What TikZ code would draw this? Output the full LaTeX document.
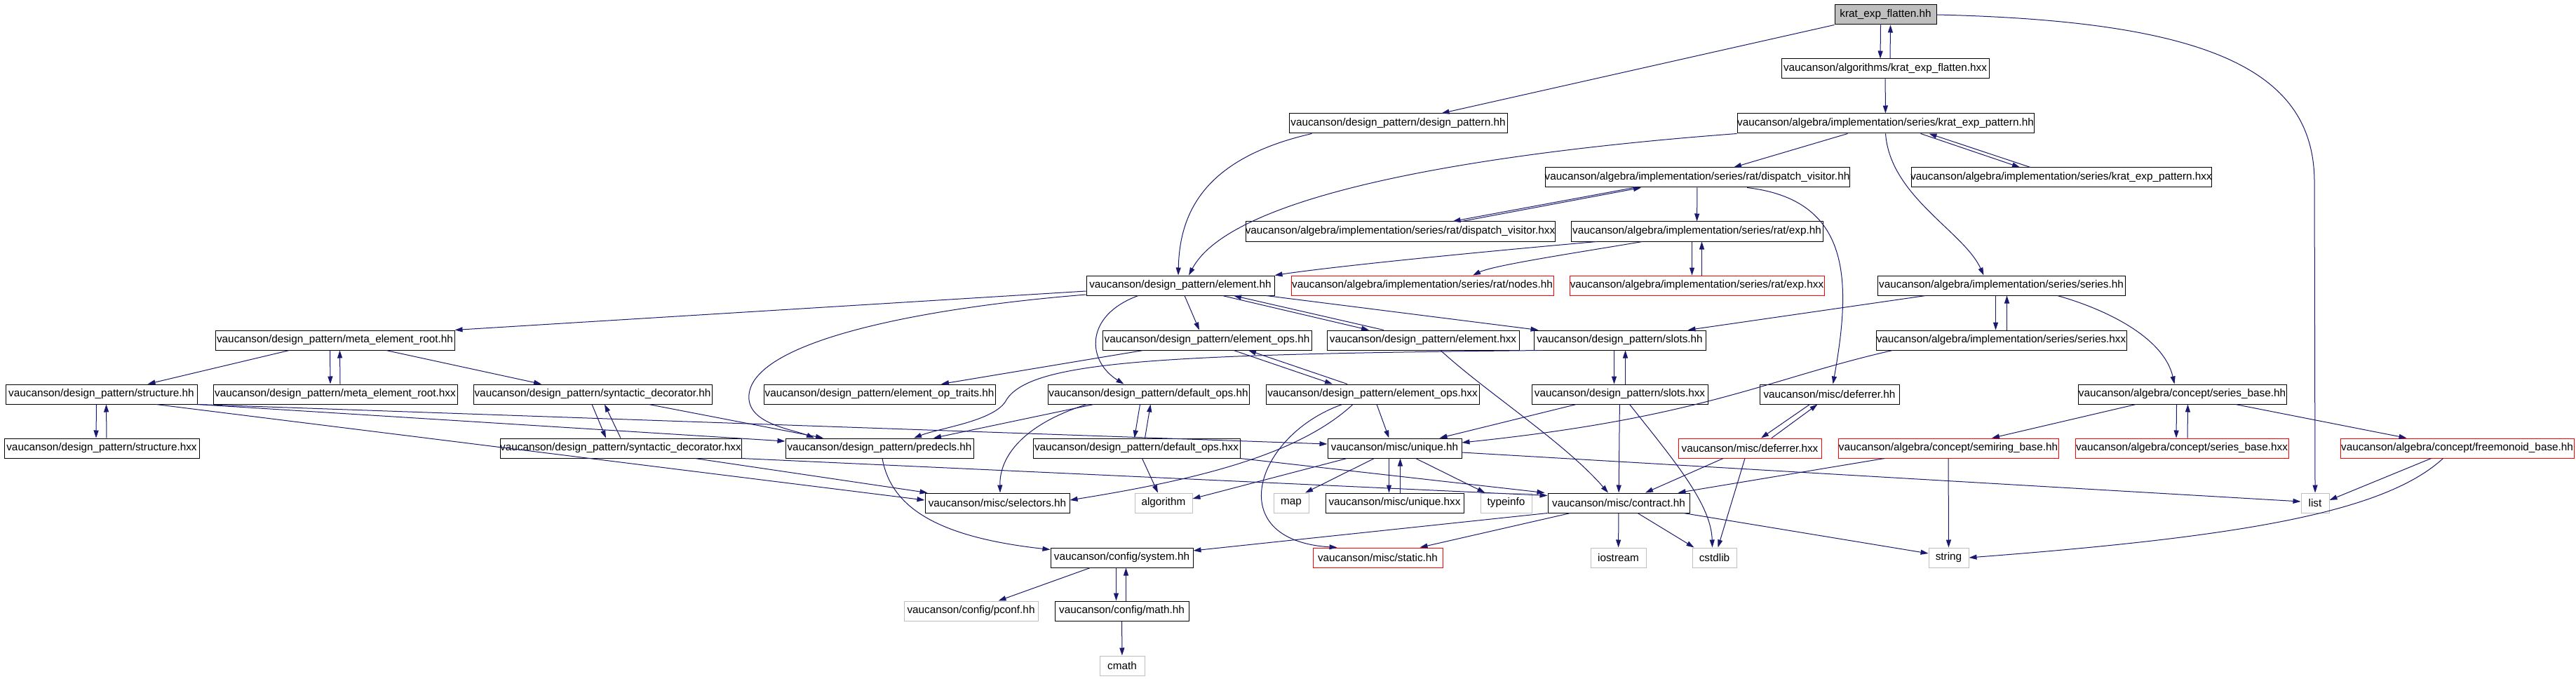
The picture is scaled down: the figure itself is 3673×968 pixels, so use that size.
\documentclass[tikz,border=0pt]{standalone}
\usepackage{fontspec}
\setmainfont{Liberation Sans}
\usetikzlibrary{arrows.meta}
\definecolor{dpblue}{RGB}{25,25,112}
\definecolor{grayb}{RGB}{191,191,191}
\newcommand{\nlab}[1]{\makebox[0pt]{#1}}
\begin{document}
\begin{tikzpicture}[x=1pt,y=-1pt,
  nd/.style={draw=black, line width=1pt, fill=white, minimum height=28pt, inner sep=0pt, font=\fontsize{15.3}{18}\selectfont},
  sysb/.style={nd, draw=grayb},
  redb/.style={nd, draw=red},
  rootb/.style={nd, fill=grayb},
  e/.style={draw=dpblue, line width=1pt, -{Triangle[length=11pt,width=7pt]}}]
\fill[white] (0,0) rectangle (3673,968);
\useasboundingbox (0,0) rectangle (3673,968);
% row 0-4
\node[rootb, minimum width=145pt] (flat) at (2688.5,21) {\nlab{krat\_exp\_flatten.hh}};
\node[nd, minimum width=296pt] (flathxx) at (2688,98) {\nlab{vaucanson/algorithms/krat\_exp\_flatten.hxx}};
\node[nd, minimum width=311pt] (dp) at (1993.5,176) {\nlab{vaucanson/design\_pattern/design\_pattern.hh}};
\node[nd, minimum width=423pt] (kep) at (2688.5,176) {\nlab{vaucanson/algebra/implementation/series/krat\_exp\_pattern.hh}};
\node[nd, minimum width=434pt] (dv) at (2420,253) {\nlab{vaucanson/algebra/implementation/series/rat/dispatch\_visitor.hh}};
\node[nd, minimum width=428pt] (kephxx) at (2939,253) {\nlab{vaucanson/algebra/implementation/series/krat\_exp\_pattern.hxx}};
\node[nd, minimum width=441pt] (dvhxx) at (1996.5,330) {\nlab{vaucanson/algebra/implementation/series/rat/dispatch\_visitor.hxx}};
\node[nd, minimum width=359pt] (exph) at (2419.5,330) {\nlab{vaucanson/algebra/implementation/series/rat/exp.hh}};
% row 5
\node[nd, minimum width=268pt] (elem) at (1683,407) {\nlab{vaucanson/design\_pattern/element.hh}};
\node[redb, minimum width=374pt] (nodes) at (2028,407) {\nlab{vaucanson/algebra/implementation/series/rat/nodes.hh}};
\node[redb, minimum width=363pt] (exphxx) at (2419.5,407) {\nlab{vaucanson/algebra/implementation/series/rat/exp.hxx}};
\node[nd, minimum width=353pt] (series) at (2853.5,407) {\nlab{vaucanson/algebra/implementation/series/series.hh}};
% row 6
\node[nd, minimum width=341pt] (mer) at (477.5,485) {\nlab{vaucanson/design\_pattern/meta\_element\_root.hh}};
\node[nd, minimum width=298pt] (eops) at (1721,485) {\nlab{vaucanson/design\_pattern/element\_ops.hh}};
\node[nd, minimum width=274pt] (elemhxx) at (2029,485) {\nlab{vaucanson/design\_pattern/element.hxx}};
\node[nd, minimum width=245pt] (slots) at (2309.5,485) {\nlab{vaucanson/design\_pattern/slots.hh}};
\node[nd, minimum width=357pt] (serieshxx) at (2853.5,485) {\nlab{vaucanson/algebra/implementation/series/series.hxx}};
% row 7
\node[nd, minimum width=273pt] (struct) at (144.5,562) {\nlab{vaucanson/design\_pattern/structure.hh}};
\node[nd, minimum width=348pt] (merhxx) at (478,562) {\nlab{vaucanson/design\_pattern/meta\_element\_root.hxx}};
\node[nd, minimum width=340pt] (sdec) at (845,562) {\nlab{vaucanson/design\_pattern/syntactic\_decorator.hh}};
\node[nd, minimum width=330pt] (eot) at (1254,562) {\nlab{vaucanson/design\_pattern/element\_op\_traits.hh}};
\node[nd, minimum width=287pt] (dops) at (1637.5,562) {\nlab{vaucanson/design\_pattern/default\_ops.hh}};
\node[nd, minimum width=304pt] (eopshxx) at (1957,562) {\nlab{vaucanson/design\_pattern/element\_ops.hxx}};
\node[nd, minimum width=251pt] (slotshxx) at (2309.5,562) {\nlab{vaucanson/design\_pattern/slots.hxx}};
\node[nd, minimum width=199pt] (defer) at (2608.5,562) {\nlab{vaucanson/misc/deferrer.hh}};
\node[nd, minimum width=297pt] (sbase) at (3111.5,562) {\nlab{vaucanson/algebra/concept/series\_base.hh}};
% row 8
\node[nd, minimum width=278pt] (structhxx) at (145,639) {\nlab{vaucanson/design\_pattern/structure.hxx}};
\node[nd, minimum width=344pt] (sdechxx) at (885,639) {\nlab{vaucanson/design\_pattern/syntactic\_decorator.hxx}};
\node[nd, minimum width=268pt] (predecls) at (1254,639) {\nlab{vaucanson/design\_pattern/predecls.hh}};
\node[nd, minimum width=295pt] (dopshxx) at (1620.5,639) {\nlab{vaucanson/design\_pattern/default\_ops.hxx}};
\node[nd, minimum width=191pt] (unique) at (1988.5,639) {\nlab{vaucanson/misc/unique.hh}};
\node[redb, minimum width=204pt] (deferhxx) at (2495,639) {\nlab{vaucanson/misc/deferrer.hxx}};
\node[redb, minimum width=314pt] (semiring) at (2778,639) {\nlab{vaucanson/algebra/concept/semiring\_base.hh}};
\node[redb, minimum width=304pt] (sbasehxx) at (3111,639) {\nlab{vaucanson/algebra/concept/series\_base.hxx}};
\node[redb, minimum width=333pt] (freemon) at (3503.5,639) {\nlab{vaucanson/algebra/concept/freemonoid\_base.hh}};
% row 9
\node[nd, minimum width=206pt] (selectors) at (1422,717) {\nlab{vaucanson/misc/selectors.hh}};
\node[sysb, minimum width=82pt] (algorithm) at (1659,717) {\nlab{algorithm}};
\node[sysb, minimum width=50pt] (map) at (1841,717) {\nlab{map}};
\node[nd, minimum width=197pt] (uniquehxx) at (1988.5,717) {\nlab{vaucanson/misc/unique.hxx}};
\node[sysb, minimum width=73pt] (typeinfo) at (2147.5,717) {\nlab{typeinfo}};
\node[nd, minimum width=202pt] (contract) at (2308,717) {\nlab{vaucanson/misc/contract.hh}};
\node[sysb, minimum width=40pt] (list) at (3301,717) {\nlab{list}};
% row 10-12
\node[nd, minimum width=203pt] (system) at (1599.5,795) {\nlab{vaucanson/config/system.hh}};
\node[redb, minimum width=185pt] (static) at (1964.5,795) {\nlab{vaucanson/misc/static.hh}};
\node[sysb, minimum width=79pt] (iostream) at (2307.5,795) {\nlab{iostream}};
\node[sysb, minimum width=63pt] (cstdlib) at (2444.5,795) {\nlab{cstdlib}};
\node[sysb, minimum width=57pt] (string) at (2778.5,795) {\nlab{string}};
\node[sysb, minimum width=191pt] (pconf) at (1384.5,871) {\nlab{vaucanson/config/pconf.hh}};
\node[nd, minimum width=191pt] (math) at (1599.5,871) {\nlab{vaucanson/config/math.hh}};
\node[sysb, minimum width=64pt] (cmath) at (1600,949) {\nlab{cmath}};
% edges
\draw[e] (flat.south west) -- ([xshift=62pt]dp.north);
\draw[e] ([xshift=-7pt]flat.south) -- ([xshift=-7pt]flathxx.north);
\draw[e] ([xshift=7pt]flathxx.north) -- ([xshift=7pt]flat.south);
\draw[e] (flat.east) .. controls (3150,30) and (3300,100) .. (3300,260) -- (list.north);
\draw[e] (flathxx) -- (kep);
\draw[e] ([xshift=-123pt]dp.south) .. controls (1720,225) and (1682,300) .. ([xshift=-3pt]elem.north);
\draw[e] (kep.south west) .. controls (2150,215) and (1760,270) .. ([xshift=12pt]elem.north);
\draw[e] ([xshift=-54pt]kep.south) -- ([xshift=52pt]dv.north);
\draw[e] ([xshift=50pt]kep.south) -- ([xshift=-59pt]kephxx.north);
\draw[e] ([xshift=-44pt]kephxx.north) -- ([xshift=62pt]kep.south);
\draw[e] (kep.south) .. controls (2695,280) and (2800,330) .. ([xshift=-25pt]series.north);
\draw[e] ([xshift=-90pt]dv.south) -- ([xshift=75pt]dvhxx.north);
\draw[e] ([xshift=88pt]dvhxx.north) -- ([xshift=-80pt]dv.south);
\draw[e] (dv) -- (exph);
\draw[e] ([xshift=71pt]dv.south) .. controls (2640,285) and (2640,400) .. ([xshift=5pt]defer.north);
\draw[e] ([xshift=-143pt]exph.south) .. controls (2100,360) and (1900,380) .. (elem.north east);
\draw[e] ([xshift=-78pt]exph.south) .. controls (2250,360) and (2130,378) .. ([xshift=72pt]nodes.north);
\draw[e] ([xshift=-7pt]exph.south) -- ([xshift=-7pt]exphxx.north);
\draw[e] ([xshift=7pt]exphxx.north) -- ([xshift=7pt]exph.south);
\draw[e] ([xshift=-108pt]series.south) -- ([xshift=97pt]slots.north);
\draw[e] ([xshift=-8pt]series.south) -- ([xshift=-8pt]serieshxx.north);
\draw[e] ([xshift=8pt]serieshxx.north) -- ([xshift=8pt]series.south);
\draw[e] ([xshift=80pt]series.south) .. controls (3000,440) and (3085,480) .. ([xshift=-11pt]sbase.north);
\draw[e] ([xshift=-155pt]serieshxx.south) .. controls (2520,540) and (2430,595) .. ([yshift=8pt]unique.east);
\draw[e] ([yshift=-8pt]elem.west) -- (mer.north east);
\draw[e] ([yshift=-13pt]elem.west) .. controls (1300,440) and (1060,490) .. (1068,570) .. controls (1072,605) and (1130,612) .. ([xshift=-93pt]predecls.north);
\draw[e] ([xshift=6pt]elem.south) -- ([xshift=-11pt]eops.north);
\draw[e] ([xshift=60pt]elem.south) -- ([xshift=-77pt]elemhxx.north);
\draw[e] ([xshift=-56pt]elemhxx.north) -- ([xshift=76pt]elem.south);
\draw[e] ([xshift=-12pt]elem.south east) -- ([xshift=7pt]slots.north west);
\draw[e] ([xshift=-60pt]elem.south) .. controls (1545,450) and (1550,515) .. ([xshift=-35pt]dops.north);
\draw[e] ([xshift=-91pt]eops.south) -- ([xshift=88pt]eot.north);
\draw[e] ([xshift=38pt]eops.south) -- ([xshift=-57pt]eopshxx.north);
\draw[e] ([xshift=-36pt]eopshxx.north) -- ([xshift=59pt]eops.south);
\draw[e] ([xshift=25pt]elemhxx.south) .. controls (2120,560) and (2230,630) .. ([xshift=-15pt]contract.north);
\draw[e] ([xshift=-8pt]slots.south) -- ([xshift=-8pt]slotshxx.north);
\draw[e] ([xshift=8pt]slotshxx.north) -- ([xshift=8pt]slots.south);
\draw[e] ([xshift=13pt]slots.south west) .. controls (1650,505) and (1470,515) .. (1435,570) .. controls (1420,600) and (1340,610) .. ([xshift=49pt]predecls.north);
\draw[e] ([xshift=-65pt]mer.south) -- ([xshift=66pt]struct.north);
\draw[e] ([xshift=-7pt]mer.south) -- ([xshift=-7pt]merhxx.north);
\draw[e] ([xshift=7pt]merhxx.north) -- ([xshift=7pt]mer.south);
\draw[e] ([xshift=73pt]mer.south) -- ([xshift=-73pt]sdec.north);
\draw[e] ([xshift=-7pt]struct.south) -- ([xshift=-8pt]structhxx.north);
\draw[e] ([xshift=7pt]structhxx.north) -- ([xshift=7pt]struct.south);
\draw[e] (struct.south east) -- ([yshift=10pt]predecls.west);
\draw[e] (struct.south east) -- ([yshift=6pt]unique.west);
\draw[e] ([xshift=78pt]struct.south) -- ([yshift=4pt]selectors.west);
\draw[e] ([xshift=-1pt]sdec.south) -- ([xshift=-21pt]sdechxx.north);
\draw[e] (sdechxx.north) -- ([xshift=17pt]sdec.south);
\draw[e] ([xshift=80pt]sdec.south) -- ([xshift=-80pt]predecls.north);
\draw[e] ([xshift=106pt]sdechxx.south) -- ([xshift=4pt]selectors.north west);
\draw[e] (sdechxx.south east) -- ([yshift=-4pt]contract.north west);
\draw[e] ([xshift=-78pt]dops.south) -- ([xshift=77pt]predecls.north);
\draw[e] ([xshift=-88pt]dops.south) .. controls (1460,605) and (1425,650) .. ([xshift=4pt]selectors.north);
\draw[e] ([xshift=-12pt]dops.south) -- ([xshift=-3pt]dopshxx.north);
\draw[e] ([xshift=12pt]dopshxx.north) -- ([xshift=3pt]dops.south);
\draw[e] ([xshift=8pt]dopshxx.south) -- ([xshift=-8pt]algorithm.north);
\draw[e] (dopshxx.south east) -- ([xshift=-4pt]contract.north west);
\draw[e] ([xshift=-28pt]eopshxx.south) .. controls (1850,650) and (1700,685) .. ([yshift=4pt]selectors.east);
\draw[e] ([xshift=-43pt]eopshxx.south) .. controls (1790,620) and (1740,770) .. ([xshift=-58pt]static.north);
\draw[e] ([xshift=6pt]eopshxx.south) -- ([xshift=-8pt]unique.north);
\draw[e] ([xshift=-62pt]slotshxx.south) -- ([xshift=64pt]unique.north);
\draw[e] (slotshxx) -- (contract);
\draw[e] ([xshift=14pt]slotshxx.south) .. controls (2390,660) and (2440,720) .. ([xshift=-3pt]cstdlib.north);
\draw[e] ([xshift=-28pt]defer.south) -- ([xshift=16pt]deferhxx.north);
\draw[e] ([xshift=31pt]deferhxx.north) -- ([xshift=-17pt]defer.south);
\draw[e] ([xshift=-38pt]deferhxx.south) -- ([xshift=38pt]contract.north);
\draw[e] ([xshift=-7pt]deferhxx.south) -- ([xshift=5pt]cstdlib.north);
\draw[e] ([xshift=-91pt]semiring.south) -- ([xshift=-17pt]contract.north east);
\draw[e] (semiring) -- (string);
\draw[e] (contract.south west) -- ([yshift=10pt]system.east);
\draw[e] ([xshift=-69pt]contract.south) -- ([xshift=60pt]static.north);
\draw[e] (contract) -- (iostream);
\draw[e] ([xshift=27pt]contract.south) -- ([xshift=3pt]cstdlib.north west);
\draw[e] ([xshift=-9pt]contract.south east) -- ([yshift=6pt]string.west);
\draw[e] ([xshift=-68pt]unique.south) -- ([yshift=6pt]algorithm.east);
\draw[e] ([xshift=-29pt]unique.south) -- ([xshift=20pt]map.north);
\draw[e] ([xshift=-8pt]unique.south) -- ([xshift=-8pt]uniquehxx.north);
\draw[e] ([xshift=8pt]uniquehxx.north) -- ([xshift=8pt]unique.south);
\draw[e] ([xshift=30pt]unique.south) -- ([xshift=-30pt]typeinfo.north);
\draw[e] ([yshift=-6pt]unique.east) -- ([yshift=2pt]list.west);
\draw[e] ([xshift=-66pt]sbase.south) -- ([xshift=62pt]semiring.north);
\draw[e] ([xshift=-8pt]sbase.south) -- ([xshift=-8pt]sbasehxx.north);
\draw[e] ([xshift=8pt]sbasehxx.north) -- ([xshift=8pt]sbase.south);
\draw[e] ([xshift=76pt]sbase.south) -- ([xshift=-72pt]freemon.north);
\draw[e] ([xshift=-37pt]freemon.south) -- ([yshift=4pt]list.east);
\draw[e] ([xshift=-20pt]freemon.south) .. controls (3400,730) and (3200,765) .. (string.east);
\draw[e] ([xshift=4pt]predecls.south) .. controls (1270,720) and (1330,765) .. ([yshift=-3pt]system.north west);
\draw[e] ([xshift=-45pt]system.south) -- ([xshift=39pt]pconf.north);
\draw[e] ([xshift=-8pt]system.south) -- ([xshift=-8pt]math.north);
\draw[e] ([xshift=6pt]math.north) -- ([xshift=6pt]system.south);
\draw[e] (math) -- (cmath);
\end{tikzpicture}
\end{document}
